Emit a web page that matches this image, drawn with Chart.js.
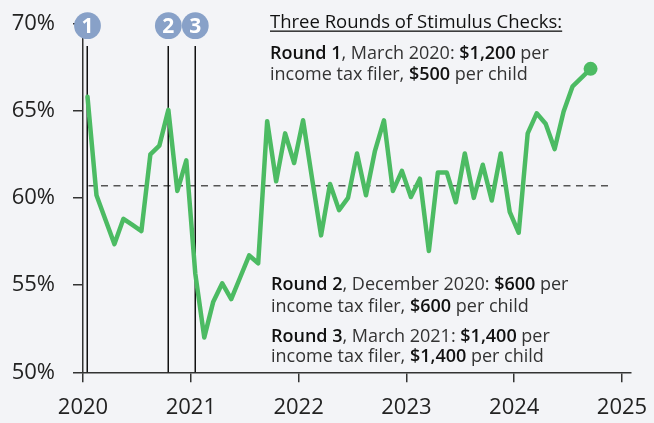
<!DOCTYPE html>
<html>
<head>
<meta charset="utf-8">
<script src="https://cdn.jsdelivr.net/npm/chart.js@4.4.1/dist/chart.umd.min.js"></script>
<style>
  html, body { margin: 0; padding: 0; background: #f3f4f7; }
  #wrap { width: 654px; height: 423px; position: relative; }
  canvas { display: block; }
</style>
</head>
<body>
<div id="wrap"><canvas id="c" width="654" height="423"></canvas></div>
<script>
// ---------- DATA ----------
const months = [
  '2020-01','2020-02','2020-03','2020-04','2020-05','2020-06','2020-07','2020-08','2020-09','2020-10','2020-11','2020-12',
  '2021-01','2021-02','2021-03','2021-04','2021-05','2021-06','2021-07','2021-08','2021-09','2021-10','2021-11','2021-12',
  '2022-01','2022-02','2022-03','2022-04','2022-05','2022-06','2022-07','2022-08','2022-09','2022-10','2022-11','2022-12',
  '2023-01','2023-02','2023-03','2023-04','2023-05','2023-06','2023-07','2023-08','2023-09','2023-10','2023-11','2023-12',
  '2024-01','2024-02','2024-03','2024-04','2024-05','2024-06','2024-07','2024-08','2024-09'
];
const values = [
  65.8, 60.15, 58.75, 57.35, 58.8, 58.45, 58.1, 62.5, 63.0, 65.05, 60.4, 62.15,
  55.65, 52.0, 54.05, 55.1, 54.2, 55.45, 56.7, 56.25, 64.4, 60.95, 63.7, 62.0,
  64.45, 61.1, 57.85, 60.8, 59.3, 60.0, 62.55, 60.15, 62.7, 64.45, 60.4, 61.55,
  60.05, 61.1, 56.95, 61.45, 61.45, 59.75, 62.55, 60.0, 61.9, 59.85, 62.55, 59.2,
  58.0, 63.7, 64.85, 64.25, 62.8, 64.95, 66.4, 66.9, 67.4
];
const yearTicks = [2020, 2021, 2022, 2023, 2024, 2025];
const yTicks = [50, 55, 60, 65, 70];
const roundMonths = ['2020-01', '2020-10', '2021-01'];
const roundLabels = ['1', '2', '3'];
const averageValue = 60.7;
const averageEnd = '2024-12';

// ---------- HELPERS ----------
function monthToX(m) {
  const [y, mo] = m.split('-').map(Number);
  return y + (mo - 1 + 0.5) / 12;
}
const points = months.map((m, i) => ({ x: monthToX(m), y: values[i] }));
const lastIndex = points.length - 1;

const FONT = "'Open Sans', 'Noto Sans', sans-serif";
const GREEN = '#4cbb63';

function drawRich(ctx, x, y, segs, size) {
  let cx = x;
  for (const [t, bold] of segs) {
    ctx.font = (bold ? '600 ' : '400 ') + size + 'px ' + FONT;
    ctx.fillStyle = bold ? '#111' : '#333';
    ctx.fillText(t, cx, y);
    cx += ctx.measureText(t).width;
  }
  return cx - x;
}

const overlay = {
  id: 'overlay',
  beforeDatasetsDraw(chart) {
    const { ctx, scales: { x, y }, chartArea } = chart;
    ctx.save();
    // average dashed line
    ctx.strokeStyle = '#555';
    ctx.lineWidth = 1.5;
    ctx.setLineDash([7, 5.5]);
    const yy = y.getPixelForValue(averageValue);
    ctx.beginPath();
    ctx.moveTo(x.getPixelForValue(monthToX(roundMonths[0])) + 1, yy);
    ctx.lineTo(x.getPixelForValue(monthToX(averageEnd)) - 6, yy);
    ctx.stroke();
    ctx.setLineDash([]);
    // vertical round lines
    ctx.strokeStyle = '#111';
    ctx.lineWidth = 1.5;
    for (const m of roundMonths) {
      const px = Math.round(x.getPixelForValue(monthToX(m))) + 0.25;
      ctx.beginPath();
      ctx.moveTo(px, 46);
      ctx.lineTo(px, chartArea.bottom);
      ctx.stroke();
    }
    ctx.restore();
  },
  afterDraw(chart) {
    const { ctx, scales: { x } } = chart;
    ctx.save();
    // circles
    roundMonths.forEach((m, i) => {
      const px = x.getPixelForValue(monthToX(m));
      ctx.beginPath();
      ctx.arc(px, 25.7, 13.4, 0, Math.PI * 2);
      ctx.fillStyle = '#88a1c8';
      ctx.fill();
      ctx.fillStyle = '#fff';
      ctx.font = '700 21px ' + FONT;
      ctx.textAlign = 'center';
      ctx.textBaseline = 'middle';
      ctx.fillText(roundLabels[i], px, 26.8);
    });
    ctx.textAlign = 'left';
    ctx.textBaseline = 'alphabetic';
    // title
    ctx.font = '400 18.5px ' + FONT;
    ctx.fillStyle = '#111';
    const title = 'Three Rounds of Stimulus Checks:';
    ctx.fillText(title, 270, 28);
    const tw = ctx.measureText(title).width;
    ctx.fillRect(270, 30.5, tw, 1.3);
    const S = 18;
    drawRich(ctx, 270, 59, [['Round 1', true], [', March 2020: ', false], ['$1,200', true], [' per', false]], S);
    drawRich(ctx, 270, 80, [['income tax filer, ', false], ['$500', true], [' per child', false]], S);
    drawRich(ctx, 271, 290, [['Round 2', true], [', December 2020: ', false], ['$600', true], [' per', false]], S);
    drawRich(ctx, 271, 311.5, [['income tax filer, ', false], ['$600', true], [' per child', false]], S);
    drawRich(ctx, 271, 341.5, [['Round 3', true], [', March 2021: ', false], ['$1,400', true], [' per', false]], S);
    drawRich(ctx, 271, 362, [['income tax filer, ', false], ['$1,400', true], [' per child', false]], S);
    ctx.restore();
  }
};

new Chart(document.getElementById('c'), {
  type: 'line',
  data: {
    datasets: [{
      data: points,
      borderColor: GREEN,
      backgroundColor: GREEN,
      borderWidth: 4.5,
      tension: 0,
      borderJoinStyle: 'round',
      borderCapStyle: 'round',
      pointRadius: ctx => (ctx.dataIndex === lastIndex ? 7 : 0),
      pointHoverRadius: 0,
      pointBackgroundColor: GREEN,
      pointBorderWidth: 0
    }]
  },
  options: {
    responsive: false,
    devicePixelRatio: 1,
    animation: false,
    events: [],
    layout: { padding: { top: 23.5, right: 23, bottom: 0, left: 0 } },
    plugins: { legend: { display: false }, tooltip: { enabled: false } },
    scales: {
      x: {
        type: 'linear',
        min: 2020,
        max: 2025 + 1 / 12,
        afterBuildTicks: s => { s.ticks = yearTicks.map(v => ({ value: v })); },
        afterFit: s => { s.height = 50.7; s.paddingLeft = 0; s.paddingRight = 0; },
        ticks: {
          callback: v => String(v),
          font: { family: FONT, size: 22 },
          color: '#222',
          padding: 12,
          maxRotation: 0,
          autoSkip: false
        },
        grid: { drawOnChartArea: false, drawTicks: true, tickLength: 10, color: '#333', lineWidth: 1.5 },
        border: { display: true, color: '#333', width: 1.5 }
      },
      y: {
        min: 50,
        max: 70,
        afterBuildTicks: s => { s.ticks = yTicks.map(v => ({ value: v })); },
        afterFit: s => { s.width = 83; s.paddingTop = 0; s.paddingBottom = 0; },
        ticks: {
          callback: v => v + '%',
          font: { family: FONT, size: 22 },
          color: '#222',
          padding: 18
        },
        grid: { drawOnChartArea: false, drawTicks: true, tickLength: 10, color: '#333', lineWidth: 1.5 },
        border: { display: true, color: '#333', width: 1.5 }
      }
    }
  },
  plugins: [overlay]
});
</script>
</body>
</html>
